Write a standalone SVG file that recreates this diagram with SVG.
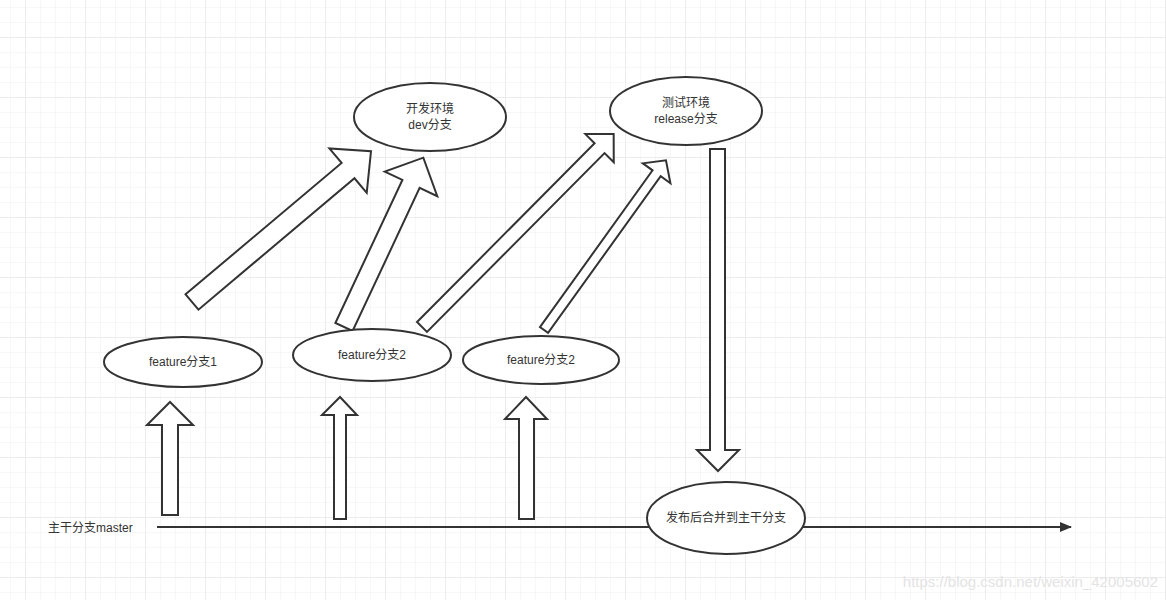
<svg xmlns="http://www.w3.org/2000/svg" width="1166" height="600" viewBox="0 0 1166 600">
<defs>
<pattern id="minor" x="10" y="7" width="15" height="15" patternUnits="userSpaceOnUse"><path d="M0 0H15M0 0V15" fill="none" stroke="#efefef" stroke-width="1"/></pattern>
<pattern id="major" x="25" y="37" width="60" height="60" patternUnits="userSpaceOnUse"><path d="M0 0H60M0 0V60" fill="none" stroke="#e2e2e2" stroke-width="1"/></pattern>
<marker id="ah" markerWidth="12" markerHeight="10" refX="11" refY="5" orient="auto" markerUnits="userSpaceOnUse"><path d="M0 0L12 5L0 10z" fill="#333"/></marker>
</defs>
<style>
.sh{fill:#fff;stroke:#333;stroke-width:2}
.t{font-family:"Liberation Sans","Noto Sans CJK SC",sans-serif;font-size:12px;fill:#333;text-anchor:middle}
</style>
<rect width="1166" height="600" fill="#fff"/>
<rect width="1166" height="600" fill="url(#minor)"/>
<rect width="1166" height="600" fill="url(#major)"/>
<g id="connectors">
<line x1="157" y1="527" x2="1071" y2="527" stroke="#333" stroke-width="2" marker-end="url(#ah)"/>
<polygon class="sh" points="162,515 162,425 147,425 170,402 193,425 178,425 178,515"/>
<polygon class="sh" points="334,519 334,415 322,415 340,397 357,415 346,415 346,519"/>
<polygon class="sh" points="519,519 519,419 505,419 526,397 547,419 534,419 534,519"/>
<polygon class="sh" points="710,149 725,149 725,450 739,450 718,471 697,450 710,450"/>
<polygon class="sh" transform="translate(192,302) rotate(-40.1)" points="0,-10 204,-10 204,-29 234,0 204,29 204,10 0,10"/>
<polygon class="sh" transform="translate(344,327) rotate(-64.9)" points="0,-9.5 158,-9.5 158,-29 187,0 158,29 158,9.5 0,9.5"/>
<polygon class="sh" transform="translate(422,327) rotate(-45.2)" points="0,-7 252,-7 252,-20 272,0 252,20 252,7 0,7"/>
<polygon class="sh" transform="translate(544,330) rotate(-54.3)" points="0,-5 193,-5 193,-17 209,0 193,17 193,5 0,5"/>
</g>
<g id="dev"><ellipse class="sh" cx="430" cy="117" rx="76" ry="34"/><text class="t" x="430" y="113">开发环境</text><text class="t" x="430" y="129">dev分支</text></g>
<g id="release"><ellipse class="sh" cx="686" cy="111" rx="76" ry="34"/><text class="t" x="686" y="107">测试环境</text><text class="t" x="686" y="123">release分支</text></g>
<g id="feature1"><ellipse class="sh" cx="183" cy="362" rx="79" ry="25"/><text class="t" x="183" y="366">feature分支1</text></g>
<g id="feature2"><ellipse class="sh" cx="372" cy="355" rx="79" ry="26"/><text class="t" x="372" y="359">feature分支2</text></g>
<g id="feature2b"><ellipse class="sh" cx="541" cy="360" rx="78" ry="24"/><text class="t" x="541" y="364">feature分支2</text></g>
<g id="merge"><ellipse class="sh" cx="726" cy="518" rx="79" ry="36"/><text class="t" x="726" y="522">发布后合并到主干分支</text></g>
<g id="master"><text class="t" x="48" y="532" style="text-anchor:start">主干分支master</text></g>
<text x="1158" y="587" style="font-family:'Liberation Sans',sans-serif;font-size:15px;fill:#e4e4e4;text-anchor:end">https://blog.csdn.net/weixin_42005602</text>
</svg>
